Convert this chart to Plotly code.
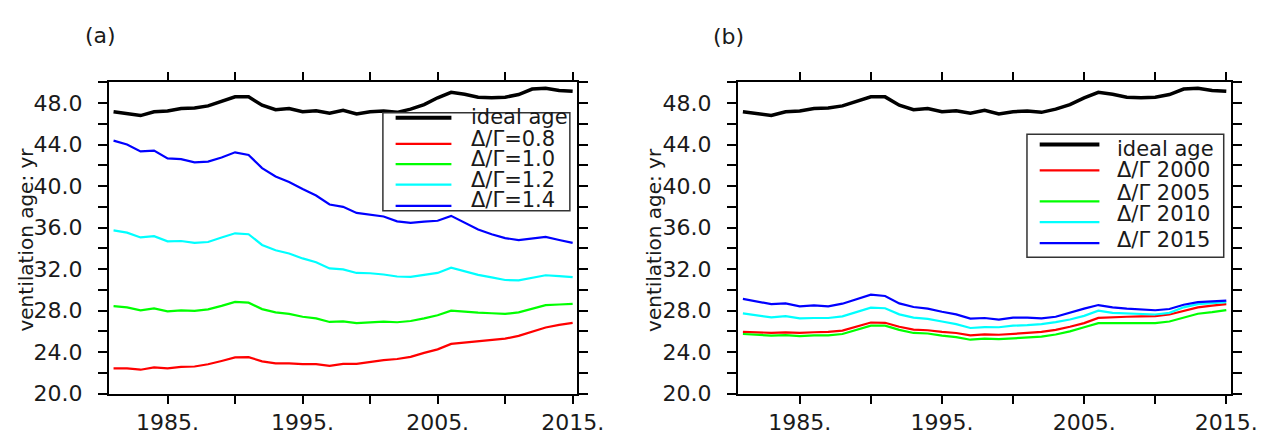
import plotly.graph_objects as go

years = list(range(1981, 2016))

ideal_age = [47.16, 47.01, 46.79, 47.16, 47.23, 47.47, 47.51, 47.72, 48.19, 48.59,
             48.59, 47.79, 47.35, 47.47, 47.16, 47.26, 47.01, 47.30, 46.95, 47.16,
             47.23, 47.10, 47.41, 47.85, 48.50, 49.03, 48.84, 48.56, 48.50, 48.56,
             48.81, 49.34, 49.43, 49.21, 49.12]

# panel (a)
ratio_08 = [22.44, 22.44, 22.31, 22.53, 22.44, 22.59, 22.62, 22.84, 23.15, 23.49,
            23.52, 23.12, 22.93, 22.93, 22.84, 22.84, 22.68, 22.87, 22.87, 23.06,
            23.24, 23.34, 23.55, 23.93, 24.27, 24.80, 24.92, 25.05, 25.17, 25.30,
            25.57, 25.98, 26.38, 26.63, 26.82]
ratio_10 = [28.43, 28.31, 28.03, 28.21, 27.94, 28.03, 27.97, 28.12, 28.46, 28.84,
            28.77, 28.15, 27.84, 27.69, 27.41, 27.25, 26.91, 26.97, 26.79, 26.88,
            26.94, 26.88, 27.00, 27.25, 27.56, 28.00, 27.87, 27.81, 27.75, 27.69,
            27.84, 28.21, 28.53, 28.59, 28.65]
ratio_12 = [35.73, 35.51, 35.05, 35.17, 34.68, 34.71, 34.52, 34.61, 35.05, 35.45,
            35.36, 34.33, 33.81, 33.50, 33.03, 32.66, 32.07, 31.97, 31.63, 31.60,
            31.48, 31.29, 31.26, 31.41, 31.63, 32.13, 31.76, 31.45, 31.20, 30.95,
            30.92, 31.17, 31.41, 31.32, 31.23]
ratio_14 = [44.37, 44.00, 43.34, 43.41, 42.66, 42.60, 42.29, 42.35, 42.75, 43.25,
            43.00, 41.73, 40.92, 40.39, 39.71, 39.09, 38.22, 38.00, 37.41, 37.22,
            37.07, 36.60, 36.45, 36.57, 36.66, 37.13, 36.45, 35.82, 35.36, 34.99,
            34.80, 34.92, 35.11, 34.80, 34.52]

# panel (b)
ratio_2000 = [25.96, 25.90, 25.86, 25.90, 25.86, 25.92, 25.96, 26.08, 26.45, 26.86,
              26.83, 26.45, 26.17, 26.11, 25.96, 25.85, 25.62, 25.72, 25.68, 25.80,
              25.85, 25.95, 26.15, 26.45, 26.80, 27.30, 27.38, 27.41, 27.45, 27.48,
              27.63, 28.00, 28.32, 28.48, 28.63]
ratio_2005 = [25.75, 25.70, 25.60, 25.65, 25.55, 25.62, 25.62, 25.75, 26.15, 26.55,
              26.55, 26.15, 25.85, 25.80, 25.60, 25.45, 25.20, 25.30, 25.25, 25.35,
              25.45, 25.50, 25.70, 26.00, 26.40, 26.80, 26.80, 26.78, 26.80, 26.80,
              26.95, 27.30, 27.70, 27.85, 28.05]
ratio_2010 = [27.73, 27.58, 27.36, 27.48, 27.26, 27.29, 27.29, 27.45, 27.86, 28.29,
              28.23, 27.64, 27.33, 27.20, 26.95, 26.70, 26.33, 26.42, 26.40, 26.55,
              26.60, 26.70, 26.90, 27.15, 27.50, 28.00, 27.79, 27.73, 27.70, 27.63,
              27.79, 28.32, 28.63, 28.72, 28.82]
ratio_2015 = [29.13, 28.88, 28.63, 28.70, 28.42, 28.51, 28.42, 28.67, 29.10, 29.54,
              29.41, 28.70, 28.35, 28.20, 27.89, 27.64, 27.23, 27.29, 27.13, 27.32,
              27.32, 27.26, 27.41, 27.82, 28.19, 28.54, 28.32, 28.19, 28.13, 28.04,
              28.16, 28.57, 28.82, 28.88, 28.97]

labels_a = ["ideal age", "Δ/Γ=0.8", "Δ/Γ=1.0", "Δ/Γ=1.2", "Δ/Γ=1.4"]
labels_b = ["ideal age", "Δ/Γ 2000", "Δ/Γ 2005", "Δ/Γ 2010", "Δ/Γ 2015"]
series_a = [ideal_age, ratio_08, ratio_10, ratio_12, ratio_14]
series_b = [ideal_age, ratio_2000, ratio_2005, ratio_2010, ratio_2015]

x_tickvals = [1985, 1990, 1995, 2000, 2005, 2010, 2015]
x_ticktext = ["1985.", "", "1995.", "", "2005.", "", "2015."]
y_tickvals = [20, 24, 28, 32, 36, 40, 44, 48]
y_ticktext = ["20.0", "24.0", "28.0", "32.0", "36.0", "40.0", "44.0", "48.0"]

colors = ["#000000", "#ff0000", "#00ff00", "#00ffff", "#0000ff"]
widths = [3.5, 2.2, 2.2, 2.2, 2.2]

W, H = 1276, 438
FONT = "DejaVu Sans"
TXT = "#1a1a1a"
PAD = "\u2002"  # spacing between y tick labels and ticks


def px(x):
    return x / W


def py(y):
    return 1 - y / H


fig = go.Figure()
for s, c, w, name in zip(series_a, colors, widths, labels_a):
    fig.add_trace(go.Scatter(x=years, y=s, mode="lines", line=dict(color=c, width=w),
                             name=name, xaxis="x", yaxis="y", showlegend=False))
for s, c, w, name in zip(series_b, colors, widths, labels_b):
    fig.add_trace(go.Scatter(x=years, y=s, mode="lines", line=dict(color=c, width=w),
                             name=name, xaxis="x2", yaxis="y2", showlegend=False))

xcommon = dict(range=[1980.65, 2015.3], tickvals=x_tickvals, ticktext=x_ticktext,
               showline=True, linewidth=2, linecolor="black", mirror="ticks",
               ticks="outside", ticklen=8, tickwidth=2, tickcolor="black",
               showgrid=False, zeroline=False,
               tickfont=dict(family=FONT, size=22, color=TXT))
ycommon = dict(range=[20, 50], tickvals=y_tickvals,
               ticktext=[t + PAD for t in y_ticktext],
               showline=True, linewidth=2, linecolor="black", mirror="ticks",
               ticks="outside", ticklen=9, tickwidth=2, tickcolor="black",
               minor=dict(dtick=2, tick0=20, ticks="outside", ticklen=9, tickwidth=2,
                          tickcolor="black", showgrid=False),
               showgrid=False, zeroline=False,
               tickfont=dict(family=FONT, size=22, color=TXT))

ytop, ybot = 76.5, 397.5
fig.update_layout(
    width=W, height=H,
    margin=dict(l=0, r=0, t=0, b=0),
    paper_bgcolor="white", plot_bgcolor="white",
    xaxis=dict(domain=[px(103), px(581)], anchor="y", **xcommon),
    yaxis=dict(domain=[py(ybot), py(ytop)], anchor="x", **ycommon),
    xaxis2=dict(domain=[px(745.7), px(1249)], anchor="y2", **xcommon),
    yaxis2=dict(domain=[py(ybot), py(ytop)], anchor="x2", **ycommon),
)

shapes = []
annotations = []

# panel labels and y titles
annotations.append(dict(text="(a)", x=px(94), y=py(28), xref="paper", yref="paper",
                        showarrow=False, xanchor="center", yanchor="middle",
                        font=dict(family=FONT, size=22, color=TXT)))
annotations.append(dict(text="(b)", x=px(736), y=py(29), xref="paper", yref="paper",
                        showarrow=False, xanchor="center", yanchor="middle",
                        font=dict(family=FONT, size=22, color=TXT)))
for xc in (18, 660):
    annotations.append(dict(text="ventilation age: yr", x=px(xc), y=py(239),
                            xref="paper", yref="paper", showarrow=False, textangle=-90,
                            xanchor="center", yanchor="middle",
                            font=dict(family=FONT, size=20, color=TXT)))


def legend(box, sx0, sx1, line_ys, text_x, text_ys, labels):
    x0, y0, x1, y1 = box
    shapes.append(dict(type="rect", xref="paper", yref="paper",
                       x0=px(x0), x1=px(x1), y0=py(y1), y1=py(y0),
                       line=dict(color="#333333", width=1.5), fillcolor="white",
                       layer="above"))
    for ly, c, w in zip(line_ys, colors, widths):
        shapes.append(dict(type="line", xref="paper", yref="paper",
                           x0=px(sx0), x1=px(sx1), y0=py(ly), y1=py(ly),
                           line=dict(color=c, width=w + (0.5 if w > 3 else 0)),
                           layer="above"))
    for ty, lab in zip(text_ys, labels):
        annotations.append(dict(text=lab, x=px(text_x), y=py(ty), xref="paper",
                                yref="paper", showarrow=False, xanchor="left",
                                yanchor="middle",
                                font=dict(family=FONT, size=21, color=TXT)))


legend((383, 108, 574, 209), 396, 453, [113, 140, 161, 182, 204], 471,
       [112, 135, 156, 177, 198], labels_a)
legend((1041, 130, 1242, 257), 1054, 1115, [140.7, 167.3, 199.3, 220.7, 242.3], 1131,
       [145, 166.5, 191, 212, 239], labels_b)

fig.update_layout(shapes=shapes, annotations=annotations)
fig.write_html("out.html")
